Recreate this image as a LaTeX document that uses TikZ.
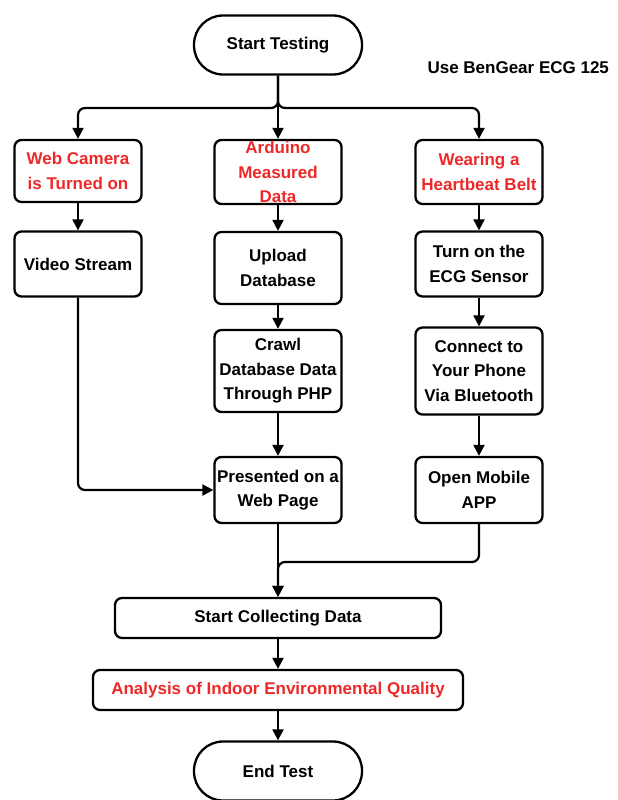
\documentclass[tikz,border=0pt]{standalone}
\usepackage{fontspec}
\setmainfont{Liberation Sans}
\usetikzlibrary{arrows.meta}
\definecolor{alertred}{RGB}{236,40,40}
\begin{document}
\begin{tikzpicture}[x=1pt,y=-1pt,
    every node/.style={font=\fontsize{17}{24.5}\selectfont\bfseries,align=center},
    term/.style={draw,line width=2.3pt,rounded corners=29pt,minimum width=168pt,minimum height=59pt},
    box/.style={draw,line width=2.3pt,rounded corners=7pt,minimum width=127pt,inner sep=1pt},
    wide/.style={draw,line width=2.3pt,rounded corners=7pt,minimum height=40pt},
    red/.style={text=alertred},
    flow/.style={line width=2.2pt,-{Triangle[length=11pt,width=11pt]},rounded corners=7pt}]
  \useasboundingbox (0,0) rectangle (618,800);
  \node[term] (start) at (278,45) {Start Testing};
  \node[anchor=west] (note) at (424,68) {Use BenGear ECG 125};
  \node[box,red,minimum height=62pt] (webcam) at (78,171) {Web Camera\\is Turned on};
  \node[box,minimum height=64pt] (arduino) at (278,172) {};
  \node[red,inner sep=0pt] (arduinotext) at (arduino.center) {Arduino\\Measured\\Data};
  \node[box,red,minimum height=64pt] (belt) at (479,172) {Wearing a\\Heartbeat Belt};
  \node[box,minimum height=65pt] (video) at (78,264) {Video Stream};
  \node[box,minimum height=72pt] (upload) at (278,268) {Upload\\Database};
  \node[box,minimum height=65pt] (ecg) at (479,264) {Turn on the\\ECG Sensor};
  \node[box,minimum height=82pt] (crawl) at (278,371) {Crawl\\Database Data\\Through PHP};
  \node[box,minimum height=87pt] (phone) at (479,371) {Connect to\\Your Phone\\Via Bluetooth};
  \node[box,minimum height=66pt] (present) at (278,490) {Presented on a\\Web Page};
  \node[box,minimum height=66pt] (mobile) at (479,490) {Open Mobile\\APP};
  \node[wide,minimum width=326pt] (collect) at (278,618) {Start Collecting Data};
  \node[wide,red,minimum width=370pt] (analysis) at (278,690) {Analysis of Indoor Environmental Quality};
  \node[term] (end) at (278,771) {End Test};
  \coordinate (split) at (278,108);
  \coordinate (merge) at (479,562);
  \begin{scope}
    \draw[flow] (start) -- (arduino);
    \draw[flow] (start) -- (split) -| (webcam);
    \draw[flow] (start) -- (split) -| (belt);
    \draw[flow] (webcam) -- (video);
    \draw[flow] (arduino) -- (upload);
    \draw[flow] (belt) -- (ecg);
    \draw[flow] (upload) -- (crawl);
    \draw[flow] (ecg) -- (phone);
    \draw[flow] (crawl) -- (present);
    \draw[flow] (phone) -- (mobile);
    \draw[flow] (video) |- (present);
    \draw[flow] (present) -- (collect);
    \draw[flow] (mobile) -- (merge) -| (collect);
    \draw[flow] (collect) -- (analysis);
    \draw[flow] (analysis) -- (end);
  \end{scope}
\end{tikzpicture}
\end{document}
